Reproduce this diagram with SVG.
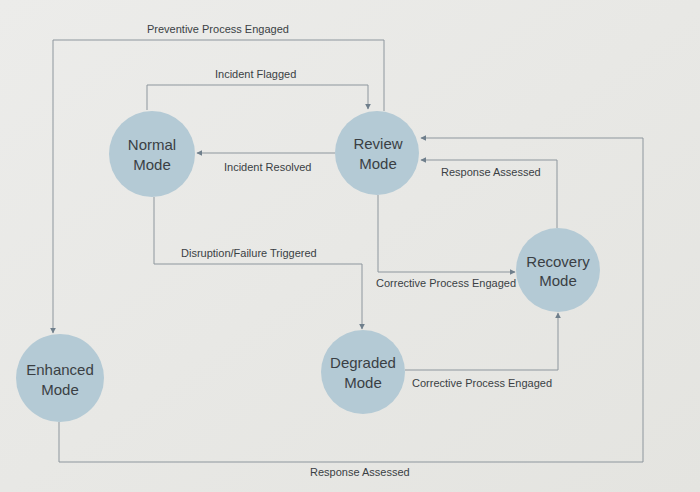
<svg xmlns="http://www.w3.org/2000/svg" width="700" height="492" viewBox="0 0 700 492">
<defs>
<marker id="ah" viewBox="0 0 10 10" refX="9" refY="5" markerWidth="6" markerHeight="6" orient="auto" markerUnits="userSpaceOnUse">
<path d="M0,0 L10,5 L0,10 z" fill="#6f7f8c"/>
</marker>
<linearGradient id="bg" x1="0" y1="0" x2="1" y2="1">
<stop offset="0" stop-color="#ececea"/>
<stop offset="1" stop-color="#e4e4e0"/>
</linearGradient>
</defs>
<style>
.node circle{fill:#b4cad5;}
.node text{font-family:"Liberation Sans","DejaVu Sans",sans-serif;font-size:15px;fill:#3a3f44;text-anchor:middle;}
.conn path{fill:none;stroke:#8d969d;stroke-width:1;marker-end:url(#ah);}
.lbl{font-family:"Liberation Sans","DejaVu Sans",sans-serif;font-size:11px;fill:#3a3f44;}
</style>
<rect width="700" height="492" fill="url(#bg)"/>
<g id="connectors" class="conn">
<path d="M384,111 V40 H53 V333"/>
<path d="M147,110 V85 H368 V109"/>
<path d="M335,153 H197"/>
<path d="M154,197 V264 H362 V329"/>
<path d="M378,195 V272 H515"/>
<path d="M557,228 V160 H421"/>
<path d="M59,422 V462 H643 V138 H421"/>
<path d="M405,370 H558 V313"/>
</g>
<g id="labels">
<text class="lbl" x="147" y="33">Preventive Process Engaged</text>
<text class="lbl" x="215" y="78">Incident Flagged</text>
<text class="lbl" x="224" y="171">Incident Resolved</text>
<text class="lbl" x="181" y="257">Disruption/Failure Triggered</text>
<text class="lbl" x="376" y="287">Corrective Process Engaged</text>
<text class="lbl" x="441" y="176">Response Assessed</text>
<text class="lbl" x="310" y="476">Response Assessed</text>
<text class="lbl" x="412" y="387">Corrective Process Engaged</text>
</g>
<g id="normal" class="node"><circle cx="152" cy="154" r="43"/><text x="152" y="150">Normal</text><text x="152" y="170">Mode</text></g>
<g id="review" class="node"><circle cx="377" cy="153" r="42"/><text x="378" y="149">Review</text><text x="378" y="169">Mode</text></g>
<g id="recovery" class="node"><circle cx="558" cy="270" r="42"/><text x="558" y="267">Recovery</text><text x="558" y="286">Mode</text></g>
<g id="degraded" class="node"><circle cx="363" cy="372" r="42"/><text x="363" y="368">Degraded</text><text x="363" y="388">Mode</text></g>
<g id="enhanced" class="node"><circle cx="60" cy="378" r="44"/><text x="60" y="375">Enhanced</text><text x="60" y="395">Mode</text></g>
</svg>
